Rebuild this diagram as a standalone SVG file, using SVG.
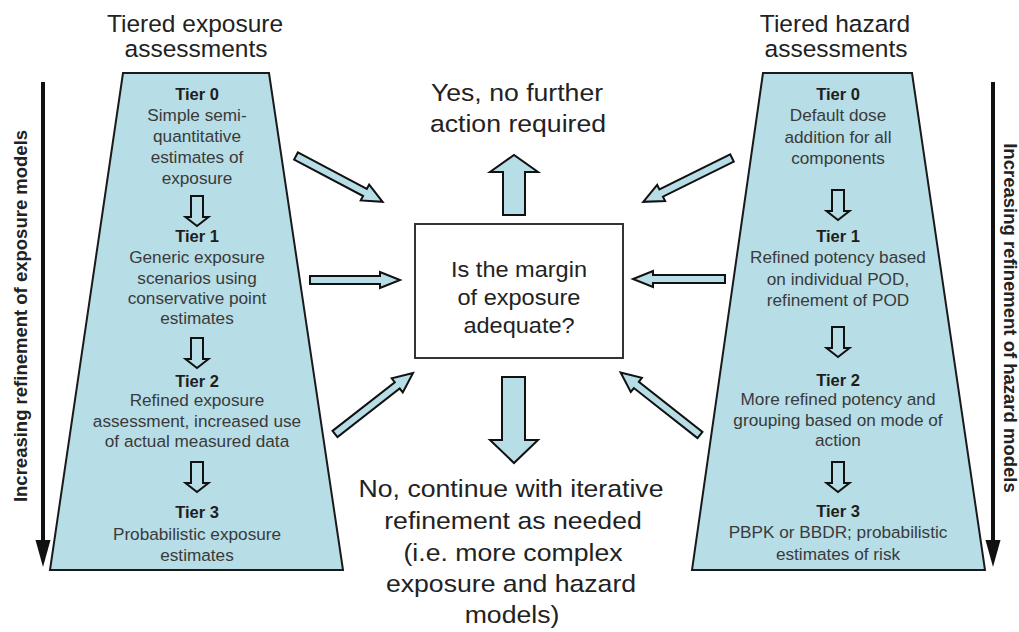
<svg xmlns="http://www.w3.org/2000/svg" width="1019" height="632" viewBox="0 0 1019 632">
<style>
text{font-family:"Liberation Sans",Arial,sans-serif;text-anchor:middle}
.title{font-size:24.5px;fill:#222}
.big{font-size:24px;fill:#222}
.q{font-size:22px;fill:#222}
.tier{font-size:16.5px;font-weight:bold;fill:#1e1e1e}
.body{font-size:17.2px;fill:#3a3a3a}
.side{font-size:18.5px;font-weight:bold;fill:#222}
.trap{fill:#b7dde6;stroke:#1a1a1a;stroke-width:2}
.blk{fill:#b7dde6;stroke:#111;stroke-width:2;stroke-linejoin:miter}
.small{fill:none;stroke:#111;stroke-width:2}
</style>
<defs>
<path id="sarrow" d="M-6,0 H6 V21 H11.5 L0,30 L-11.5,21 H-6 Z"/>
</defs>
<rect width="1019" height="632" fill="#fff"/>

<g id="exposure-title">
<text class="title" x="195" y="32">Tiered exposure</text>
<text class="title" x="196" y="57">assessments</text>
</g>
<g id="hazard-title">
<text class="title" x="835" y="32">Tiered hazard</text>
<text class="title" x="836" y="57">assessments</text>
</g>

<g id="exposure-scale">
<line x1="43" y1="82" x2="43" y2="545" stroke="#111" stroke-width="4"/>
<polygon points="35.5,540 50.5,540 43,567" fill="#111"/>
<text class="side" transform="translate(27,316) rotate(-90)">Increasing refinement of exposure models</text>
</g>
<g id="hazard-scale">
<line x1="993" y1="82" x2="993" y2="545" stroke="#111" stroke-width="4"/>
<polygon points="985.5,540 1000.5,540 993,567" fill="#111"/>
<text class="side" transform="translate(1004,318) rotate(90)">Increasing refinement of hazard models</text>
</g>

<g id="exposure-tiers">
<polygon class="trap" points="123,73 269,73 343,570 50,570"/>
<text class="tier" x="197" y="100">Tier 0</text>
<text class="body" x="197" y="121">Simple semi-</text>
<text class="body" x="197" y="142">quantitative</text>
<text class="body" x="197" y="163">estimates of</text>
<text class="body" x="197" y="184">exposure</text>
<use href="#sarrow" class="small" x="197" y="196"/>
<text class="tier" x="197" y="242">Tier 1</text>
<text class="body" x="197" y="263">Generic exposure</text>
<text class="body" x="197" y="284">scenarios using</text>
<text class="body" x="197" y="304">conservative point</text>
<text class="body" x="197" y="324">estimates</text>
<use href="#sarrow" class="small" x="197" y="338"/>
<text class="tier" x="197" y="387">Tier 2</text>
<text class="body" x="197" y="406">Refined exposure</text>
<text class="body" x="197" y="427">assessment, increased use</text>
<text class="body" x="197" y="447">of actual measured data</text>
<use href="#sarrow" class="small" x="197" y="462"/>
<text class="tier" x="197" y="518">Tier 3</text>
<text class="body" x="197" y="540">Probabilistic exposure</text>
<text class="body" x="197" y="561">estimates</text>
</g>

<g id="hazard-tiers">
<polygon class="trap" points="763,73 912,73 985,570 692,570"/>
<text class="tier" x="838" y="100">Tier 0</text>
<text class="body" x="838" y="121">Default dose</text>
<text class="body" x="838" y="143">addition for all</text>
<text class="body" x="838" y="164">components</text>
<use href="#sarrow" class="small" x="838" y="190"/>
<text class="tier" x="838" y="242">Tier 1</text>
<text class="body" x="838" y="263">Refined potency based</text>
<text class="body" x="838" y="285">on individual POD,</text>
<text class="body" x="838" y="306">refinement of POD</text>
<use href="#sarrow" class="small" x="838" y="327"/>
<text class="tier" x="838" y="386">Tier 2</text>
<text class="body" x="838" y="405">More refined potency and</text>
<text class="body" x="838" y="426">grouping based on mode of</text>
<text class="body" x="838" y="446">action</text>
<use href="#sarrow" class="small" x="838" y="462"/>
<text class="tier" x="838" y="517">Tier 3</text>
<text class="body" x="838" y="538">PBPK or BBDR; probabilistic</text>
<text class="body" x="838" y="560">estimates of risk</text>
</g>

<g id="question">
<rect x="415" y="224" width="208" height="134" fill="#fff" stroke="#333" stroke-width="2"/>
<text class="q" transform="translate(519,277) scale(1.07,1)">Is the margin</text>
<text class="q" transform="translate(519,305) scale(1.07,1)">of exposure</text>
<text class="q" transform="translate(519,333) scale(1.07,1)">adequate?</text>
</g>

<g id="yes">
<text class="big" transform="translate(517,101) scale(1.11,1)">Yes, no further</text>
<text class="big" transform="translate(518,132) scale(1.11,1)">action required</text>
</g>

<g id="no">
<text class="big" transform="translate(511,497) scale(1.11,1)">No, continue with iterative</text>
<text class="big" transform="translate(513,529) scale(1.11,1)">refinement as needed</text>
<text class="big" transform="translate(513,561) scale(1.11,1)">(i.e. more complex</text>
<text class="big" transform="translate(511,592) scale(1.11,1)">exposure and hazard</text>
<text class="big" transform="translate(512,623) scale(1.11,1)">models)</text>
</g>

<g id="connectors">
<path class="blk" d="M503,215 V172 H490 L514,155 L538,172 H525 V215 Z"/>
<path class="blk" d="M502,377 H525 V440 H538 L514,463 L490,440 H502 Z"/>
<path class="blk" transform="translate(296,156) rotate(27.9)" d="M0,-4 H78 V-9 L98,0 L78,9 V4 H0 Z"/>
<path class="blk" transform="translate(310,280)" d="M0,-4 H70 V-8 L90,0 L70,8 V4 H0 Z"/>
<path class="blk" transform="translate(335,434) rotate(-38)" d="M0,-4 H79 V-9 L99,0 L79,9 V4 H0 Z"/>
<path class="blk" transform="translate(732,158) rotate(153.7)" d="M0,-4 H79 V-9 L99,0 L79,9 V4 H0 Z"/>
<path class="blk" transform="translate(725,279) rotate(180)" d="M0,-4 H72 V-8 L92,0 L72,8 V4 H0 Z"/>
<path class="blk" transform="translate(700,435) rotate(-141.8)" d="M0,-4 H81 V-9 L101,0 L81,9 V4 H0 Z"/>
</g>
</svg>
